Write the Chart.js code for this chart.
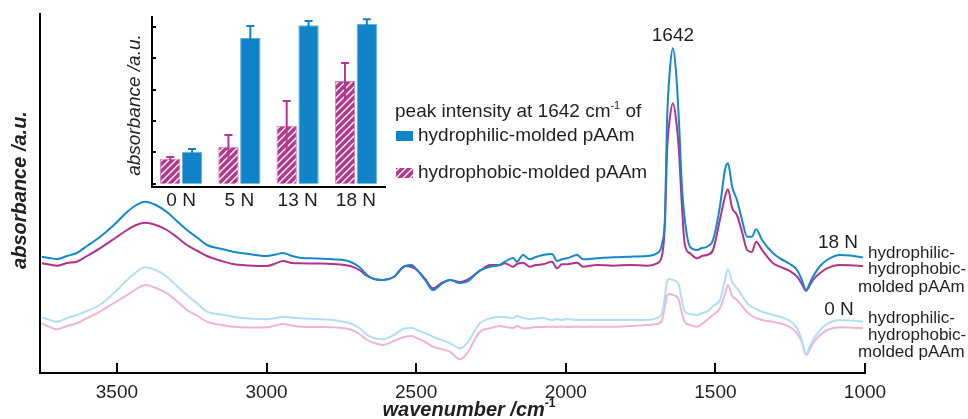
<!DOCTYPE html>
<html><head><meta charset="utf-8">
<script src="https://cdn.jsdelivr.net/npm/chart.js@4.4.1/dist/chart.umd.min.js"></script>
<style>
html,body{margin:0;padding:0;background:#fff;}
#wrap{position:relative;width:968px;height:419px;overflow:hidden;}
#wrap canvas{position:absolute;left:0;top:0;}
</style></head><body>
<div id="wrap"><canvas id="main" width="968" height="419"></canvas><canvas id="inset" width="968" height="419"></canvas></div>
<script>
// ---- main spectrum data (wavenumber / cm-1, absorbance a.u.) ----
const wavenumbers = [3751,3725,3700,3667,3634,3600,3557,3510,3466,3435,3406,3370,3333,3300,3266,3230,3199,3150,3112,3060,
2999,2970,2945,2915,2888,2830,2778,2721,2690,2664,2640,2611,2575,2537,2515,2497,2470,2444,2415,2387,
2354,2330,2287,2253,2220,2203,2176,2163,2143,2120,2100,2076,2046,2029,2013,1996,1962,1942,1896,1842,
1785,1729,1695,1678,1668,1662,1652,1642,1632,1622,1612,1602,1585,1561,1545,1528,1508,1485,1468,1458,
1444,1428,1411,1394,1378,1364,1344,1307,1284,1251,1227,1211,1197,1184,1174,1150,1127,1084,1050,1007];
const hydrophilic18N = [116.3,115,114,117,120,127,136,148,161,168,
171.3,168,161,152,143,135,128,124,121.3,119,
117,118.5,120,117,115.3,114.5,113.7,111.3,106,98,
94,93,96,107,108,103,93,83,89,93,
90,91.3,102.3,106.3,108,111.3,115,111.3,118,113.7,
116,118,119,112,113.7,114.7,118,113.7,114.7,115.7,
116.3,117,119.7,129.7,160,248,303,324.7,303,253,
188,153,126.3,123,125,126.3,133,166.3,203,209.7,
186.3,173,153,136.3,136.3,143.7,133,119.7,114.7,109,
103,93,83,90,96.3,107,113,118,117.5,115.7];
const hydrophobic18N = [109.7,108.5,107.3,110,111.3,117,124.7,134,143,148,
150.3,148,143,136,128,122,117,112,109,107.5,
107,109.5,112,110,109.7,109.5,109,107,103,97,
94,93,96,107,106,103,94,84.7,90,93,
91,93,102.3,108,108,109.7,106.3,109,110.3,106.3,
108,108.7,111.3,104.7,108.7,108.7,110.3,106.3,108,107.3,
108,107.3,109.7,118,153,218,255,269.7,255,223,
168,128,119.7,114.7,117,118,123,153,176,183.7,
165,158,141,123,121,131.3,123,109.7,106.3,102,
96.3,89,82.3,88,93,100,104.7,108,107.7,107];
const hydrophilic0N = [55.7,53,51.3,55,58,62,68,80,93,101,
105.7,103,96.3,87,78,69,61.3,58.5,56.3,54.5,
53.7,55,56.3,55.5,54.7,54,53,49.7,45,38,
35,33.7,38,44.7,45,43,40,36.3,33,29.7,
24.7,29.7,49.7,54.7,56.3,56,55,57,55,54,
54.5,55,53,54,53,54,53,53,53,53,
53,53,55,60,78,91,94,93,92,88,
73,61.3,59,58,60,61.3,67,73,93,103.7,
91,85,77,70,66,64,61.3,58,56.3,52,
44.7,33,19,27,33,43,49,53,52.5,51.3];
const hydrophobic0N = [49.7,46,43.7,47,49.7,55,61.3,70,78,84,
88,85,79.7,72,63,57,51.3,48,46.3,45.5,
45.7,47.5,49,47.5,46.3,46,45.7,43.7,39,33,
30,28,32,36.3,37,34.7,31,26.3,24,21.3,
13.7,19.7,41.3,44.7,47,46,45,47,44.7,45,
46,46,46.3,46,46.3,46,46.3,46,46.3,46.3,
47,48,49,53,68,77,79,78,77,73,
60,51,48,46.3,49,53,58,64.7,79,88,
77,73,67,61,57,55,53,51,49.7,46,
39.7,31,18,24,29.7,38,43,45.7,45.5,44.7];
const xTickValues = [3500,3000,2500,2000,1500,1000];

// ---- inset: peak intensity at 1642 cm-1 ----
const insetCategories = ['0 N','5 N','13 N','18 N'];
const peakHydrophobic = [0.80,1.18,1.85,3.28];
const peakHydrophobicErr = [0.06,0.38,0.79,0.57];
const peakHydrophilic = [1.02,4.65,5.06,5.10];
const peakHydrophilicErr = [0.09,0.38,0.13,0.15];
const insetYTicks = [0,1,2,3,4,5];

const FONT = "'Liberation Sans', Arial, Helvetica, sans-serif";
const TXT = '#231f20';
const C_BLUE = '#1587cc', C_MAG = '#b1318c', C_LBLUE = '#b3ddf6', C_LPINK = '#efb3d5';
const BAR_BLUE = '#1183c8', BAR_MAG = '#b2388f';

function series(ys){ return wavenumbers.map((w,i)=>({x:w,y:ys[i]})); }

function makeHatch(){
  const c = document.createElement('canvas'); c.width = 7; c.height = 7;
  const g = c.getContext('2d');
  g.fillStyle = BAR_MAG; g.fillRect(0,0,7,7);
  g.strokeStyle = '#ffffff'; g.lineWidth = 1.4;
  g.beginPath();
  g.moveTo(-1,8); g.lineTo(8,-1);
  g.moveTo(-1,1); g.lineTo(1,-1);
  g.moveTo(6,8); g.lineTo(8,6);
  g.stroke();
  return document.getElementById('main').getContext('2d').createPattern(c,'repeat');
}
const hatch = makeHatch();

function textWithSup(ctx, parts, x, y, size){
  let cx = x;
  for (const p of parts){
    if (p.sup){
      ctx.font = (p.style||'') + ' ' + Math.round(size*0.6) + 'px ' + FONT;
      ctx.fillText(p.t, cx, y - size*0.33);
    } else {
      ctx.font = (p.style||'') + ' ' + size + 'px ' + FONT;
      ctx.fillText(p.t, cx, y);
    }
    cx += ctx.measureText(p.t).width;
  }
  return cx - x;
}

const mainDecor = {
  id:'mainDecor',
  afterDraw(chart){
    const ctx = chart.ctx, xs = chart.scales.x, ys = chart.scales.y;
    ctx.save();
    ctx.strokeStyle = '#000'; ctx.lineWidth = 2;
    for (const v of xTickValues){
      const px = Math.round(xs.getPixelForValue(v));
      ctx.beginPath(); ctx.moveTo(px, ys.bottom); ctx.lineTo(px, ys.bottom - 10); ctx.stroke();
    }
    ctx.fillStyle = TXT;
    ctx.textBaseline = 'middle';
    const parts = [{t:'wavenumber /cm', style:'italic bold'},{t:'-1', sup:true, style:'bold'}];
    let w = 0;
    ctx.font = 'italic bold 20px ' + FONT; w += ctx.measureText(parts[0].t).width;
    ctx.font = 'bold 12px ' + FONT; w += ctx.measureText(parts[1].t).width;
    ctx.textAlign = 'left';
    textWithSup(ctx, parts, 469 - w/2, 410, 20);
    ctx.save();
    ctx.translate(20, 190); ctx.rotate(-Math.PI/2);
    ctx.font = 'italic bold 20px ' + FONT; ctx.textAlign = 'center';
    ctx.fillText('absorbance /a.u.', 0, 0);
    ctx.restore();
    ctx.font = '19px ' + FONT; ctx.textAlign = 'center';
    ctx.fillText('1642', xs.getPixelForValue(1642), 36);
    ctx.font = '19px ' + FONT;
    ctx.fillText('18 N', 838, 243);
    ctx.fillText('0 N', 839, 310);
    ctx.font = '17px ' + FONT; ctx.textAlign = 'left';
    ctx.fillText('hydrophilic-', 868, 253);
    ctx.fillText('hydrophobic-', 868, 269);
    ctx.fillText('molded pAAm', 858, 287);
    ctx.fillText('hydrophilic-', 868, 318);
    ctx.fillText('hydrophobic-', 868, 335);
    ctx.fillText('molded pAAm', 858, 352);
    ctx.restore();
  }
};

const lineDs = (label, ys, color) => ({label, data:series(ys), borderColor:color, borderWidth:2, pointRadius:0,
  cubicInterpolationMode:'monotone', fill:false});

new Chart(document.getElementById('main'), {
  type:'line',
  data:{datasets:[
    lineDs('0 N hydrophilic-molded pAAm', hydrophilic0N, C_LBLUE),
    lineDs('0 N hydrophobic-molded pAAm', hydrophobic0N, C_LPINK),
    lineDs('18 N hydrophilic-molded pAAm', hydrophilic18N, C_BLUE),
    lineDs('18 N hydrophobic-molded pAAm', hydrophobic18N, C_MAG)
  ]},
  options:{
    responsive:false, animation:false, devicePixelRatio:1,
    layout:{padding:{left:0, top:14, right:103, bottom:0}},
    plugins:{legend:{display:false}, tooltip:{enabled:false}},
    scales:{
      x:{type:'linear', reverse:true, min:1000, max:3757,
        afterBuildTicks:(s)=>{ s.ticks = xTickValues.map(v=>({value:v})); },
        afterFit:(s)=>{ s.height = 46; },
        grid:{display:false},
        border:{display:true, color:'#000', width:2},
        ticks:{font:{family:FONT, size:19}, color:TXT, padding:0, maxRotation:0, autoSkip:false, callback:(v)=>String(v)}},
      y:{type:'linear', min:0, max:359,
        afterFit:(s)=>{ s.width = 40; },
        ticks:{display:false}, grid:{display:false},
        border:{display:true, color:'#000', width:2}}
    }
  },
  plugins:[mainDecor]
});

const insetDecor = {
  id:'insetDecor',
  afterDatasetsDraw(chart){
    const ctx = chart.ctx, ys = chart.scales.y;
    ctx.save();
    ctx.lineWidth = 2;
    chart.data.datasets.forEach((ds, i) => {
      const meta = chart.getDatasetMeta(i);
      ctx.strokeStyle = ds.errColor;
      meta.data.forEach((el, j) => {
        const v = ds.data[j], e = ds.err[j];
        const yTop = ys.getPixelForValue(v + e), yLow = ys.getPixelForValue(v - e);
        ctx.beginPath(); ctx.moveTo(el.x, yLow); ctx.lineTo(el.x, yTop);
        ctx.moveTo(el.x - 4, yTop); ctx.lineTo(el.x + 4, yTop); ctx.stroke();
      });
    });
    ctx.restore();
  },
  afterDraw(chart){
    const ctx = chart.ctx, ys = chart.scales.y, xs = chart.scales.x;
    ctx.save();
    ctx.strokeStyle = '#000'; ctx.lineWidth = 2;
    for (const v of insetYTicks){
      const py = Math.round(ys.getPixelForValue(v));
      ctx.beginPath(); ctx.moveTo(xs.left, py); ctx.lineTo(xs.left + 4, py); ctx.stroke();
    }
    ctx.fillStyle = TXT; ctx.textBaseline = 'middle';
    ctx.save();
    ctx.translate(135, 105); ctx.rotate(-Math.PI/2);
    ctx.font = 'italic 19px ' + FONT; ctx.textAlign = 'center';
    ctx.fillText('absorbance /a.u.', 0, 0);
    ctx.restore();
    ctx.textAlign = 'left';
    textWithSup(ctx, [{t:'peak intensity at 1642 cm'},{t:'-1', sup:true},{t:' of'}], 395, 112, 19);
    ctx.fillStyle = BAR_BLUE; ctx.fillRect(396, 131, 17, 10);
    ctx.fillStyle = hatch; ctx.fillRect(396, 168, 17, 10);
    ctx.fillStyle = TXT; ctx.font = '19px ' + FONT;
    ctx.fillText('hydrophilic-molded pAAm', 418, 136);
    ctx.fillText('hydrophobic-molded pAAm', 418, 173);
    ctx.restore();
  }
};

new Chart(document.getElementById('inset'), {
  type:'bar',
  data:{labels:insetCategories, datasets:[
    {label:'hydrophobic-molded pAAm', data:peakHydrophobic, err:peakHydrophobicErr, errColor:BAR_MAG,
     backgroundColor:hatch, borderColor:'#cf7fb6', borderWidth:1, categoryPercentage:0.75, barPercentage:0.93},
    {label:'hydrophilic-molded pAAm', data:peakHydrophilic, err:peakHydrophilicErr, errColor:BAR_BLUE,
     backgroundColor:BAR_BLUE, borderColor:'#5aaee0', borderWidth:1, categoryPercentage:0.75, barPercentage:0.93}
  ]},
  options:{
    responsive:false, animation:false, devicePixelRatio:1,
    layout:{padding:{left:0, top:17, right:583, bottom:0}},
    plugins:{legend:{display:false}, tooltip:{enabled:false}},
    scales:{
      x:{afterFit:(s)=>{ s.height = 232; }, grid:{display:false},
        border:{display:true, color:'#000', width:2},
        ticks:{font:{family:FONT, size:19}, color:TXT, padding:-6, maxRotation:0}},
      y:{min:-0.1, max:5.32, afterFit:(s)=>{ s.width = 152; },
        afterBuildTicks:(s)=>{ s.ticks = insetYTicks.map(v=>({value:v})); },
        ticks:{display:false}, grid:{display:false},
        border:{display:true, color:'#000', width:2}}
    }
  },
  plugins:[insetDecor]
});
</script>
</body></html>
